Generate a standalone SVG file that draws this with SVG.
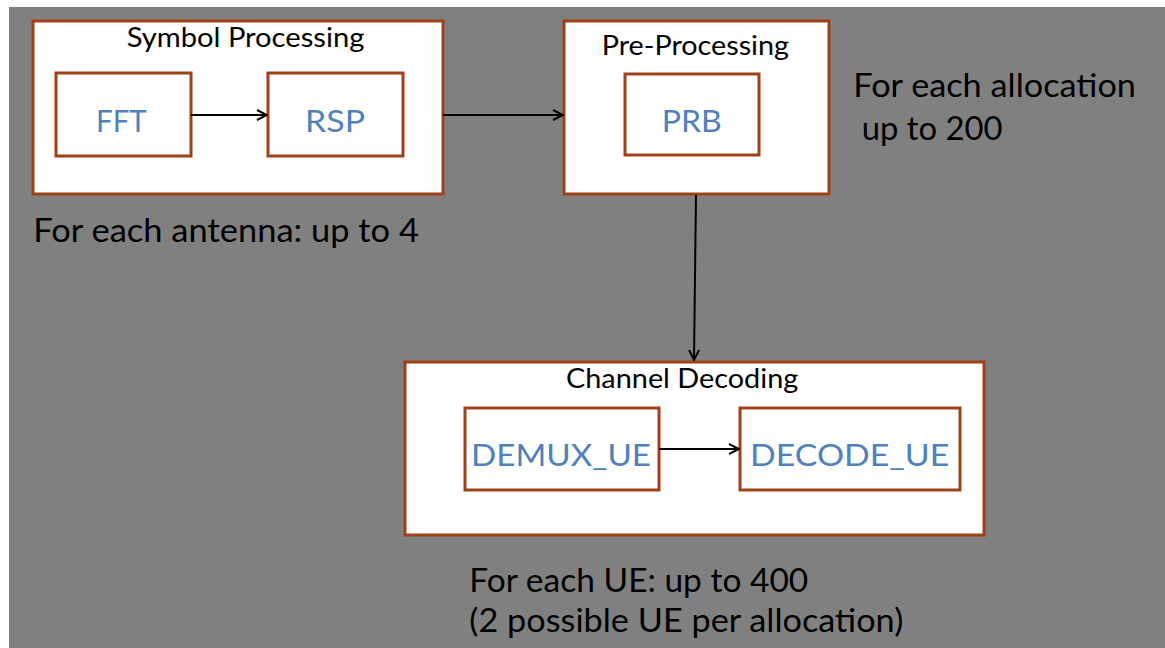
<svg xmlns="http://www.w3.org/2000/svg" width="1165" height="648" viewBox="0 0 1165 648">
<style>
.box{fill:#ffffff;stroke:#9e4018;stroke-width:3}
.title{font-family:Lato,"Liberation Sans",sans-serif;font-size:27px;fill:#000}
.inner{font-family:Lato,"Liberation Sans",sans-serif;font-size:30px;fill:#4f81bd}
.note{font-family:Lato,"Liberation Sans",sans-serif;font-size:32px;fill:#000}
.conn{stroke:#000;stroke-width:2;fill:none}
</style>
<defs>
<marker id="arr" viewBox="0 0 12 12" refX="11" refY="6" markerWidth="12" markerHeight="12" markerUnits="userSpaceOnUse" orient="auto">
<path d="M1,1 L11,6 L1,11" fill="none" stroke="#000" stroke-width="2"/>
</marker>
</defs>
<rect x="0" y="0" width="1165" height="648" fill="#ffffff"/>
<rect x="9" y="7" width="1156" height="641" fill="#808080"/>

<g id="symbol-processing">
<rect class="box" x="33" y="21" width="410" height="173"/>
<text class="title" x="126.7" y="46.7" textLength="237.6" lengthAdjust="spacingAndGlyphs">Symbol Processing</text>
</g>
<g id="fft">
<rect class="box" x="56" y="73" width="135" height="83"/>
<text class="inner" x="96" y="131.7" textLength="50.7" lengthAdjust="spacingAndGlyphs">FFT</text>
</g>
<g id="rsp">
<rect class="box" x="268" y="73" width="135" height="83"/>
<text class="inner" x="305" y="131.7" textLength="60" lengthAdjust="spacingAndGlyphs">RSP</text>
</g>
<g id="pre-processing">
<rect class="box" x="564" y="21" width="265" height="173"/>
<text class="title" x="601.7" y="55" textLength="187.3" lengthAdjust="spacingAndGlyphs">Pre-Processing</text>
</g>
<g id="prb">
<rect class="box" x="625" y="74" width="134" height="81"/>
<text class="inner" x="661.7" y="131.7" textLength="60" lengthAdjust="spacingAndGlyphs">PRB</text>
</g>
<g id="channel-decoding">
<rect class="box" x="405" y="362" width="579" height="173"/>
<text class="title" x="566" y="388.3" textLength="232.3" lengthAdjust="spacingAndGlyphs">Channel Decoding</text>
</g>
<g id="demux-ue">
<rect class="box" x="465" y="408" width="194" height="82"/>
<text class="inner" x="471" y="466" textLength="180" lengthAdjust="spacingAndGlyphs">DEMUX_UE</text>
</g>
<g id="decode-ue">
<rect class="box" x="740" y="408" width="220" height="82"/>
<text class="inner" x="750" y="466" textLength="199.3" lengthAdjust="spacingAndGlyphs">DECODE_UE</text>
</g>

<g id="notes">
<text class="note" x="33.3" y="241.7" textLength="385.7" lengthAdjust="spacingAndGlyphs">For each antenna: up to 4</text>
<text class="note" x="853.3" y="97" textLength="282.7" lengthAdjust="spacingAndGlyphs">For each allocation</text>
<text class="note" x="861.7" y="140" textLength="141" lengthAdjust="spacingAndGlyphs">up to 200</text>
<text class="note" x="469.3" y="591.7" textLength="339" lengthAdjust="spacingAndGlyphs">For each UE: up to 400</text>
<text class="note" x="469.3" y="631.7" textLength="434" lengthAdjust="spacingAndGlyphs">(2 possible UE per allocation)</text>
</g>

<g id="connectors">
<line class="conn" x1="191" y1="115" x2="267" y2="115" marker-end="url(#arr)"/>
<line class="conn" x1="443" y1="115" x2="563" y2="115" marker-end="url(#arr)"/>
<line class="conn" x1="696" y1="195" x2="694" y2="360" marker-end="url(#arr)"/>
<line class="conn" x1="659" y1="449" x2="739" y2="449" marker-end="url(#arr)"/>
</g>
</svg>
